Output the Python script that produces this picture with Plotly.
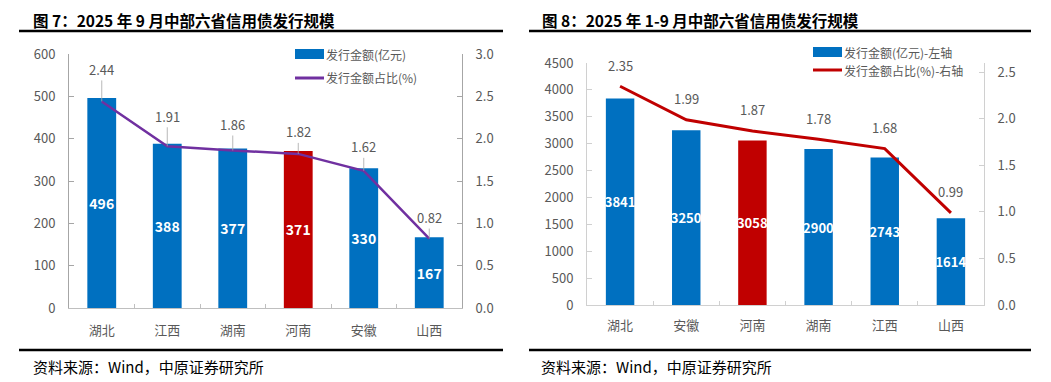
import plotly.graph_objects as go

# ---------------- data ----------------
left_categories = ["湖北", "江西", "湖南", "河南", "安徽", "山西"]
left_amount = [496, 388, 377, 371, 330, 167]          # 发行金额(亿元)
left_share = [2.44, 1.91, 1.86, 1.82, 1.62, 0.82]     # 发行金额占比(%)

right_categories = ["湖北", "安徽", "河南", "湖南", "江西", "山西"]
right_amount = [3841, 3250, 3058, 2900, 2743, 1614]    # 发行金额(亿元)-左轴
right_share = [2.35, 1.99, 1.87, 1.78, 1.68, 0.99]     # 发行金额占比(%)-右轴

left_title = "图 7：2025 年 9 月中部六省信用债发行规模"
right_title = "图 8：2025 年 1-9 月中部六省信用债发行规模"
source_text = "资料来源：Wind，中原证券研究所"

# ---------------- styles ----------------
OFF = 8                      # page body margin in the browser
W, H = 1051 - OFF, 382 - OFF
BLUE = "#0070C0"
RED = "#C00000"
PURPLE = "#7030A0"
TICK_COLOR = "#595959"
FONT = "Microsoft YaHei, Noto Sans CJK SC, sans-serif"
HIGHLIGHT = "河南"

left_label_offsets = [32, 30, 26, 22, 24, 21]


def px_x(p):
    return (p - OFF) / W


def px_y(p):
    return 1 - (p - OFF) / H


fig = go.Figure()

# left chart
fig.add_trace(go.Bar(
    x=left_categories, y=left_amount, xaxis="x", yaxis="y",
    marker=dict(color=[RED if c == HIGHLIGHT else BLUE for c in left_categories], line=dict(width=0)),
    width=0.44, text=left_amount, texttemplate="%{text}", textposition="inside",
    insidetextanchor="middle", constraintext="none", textangle=0,
    textfont=dict(color="white", size=14, family=FONT, weight="bold"),
    showlegend=False, hoverinfo="skip"))
fig.add_trace(go.Scatter(
    x=left_categories, y=left_share, xaxis="x", yaxis="y2", mode="lines",
    line=dict(color=PURPLE, width=2.5), showlegend=False, hoverinfo="skip"))

# right chart
fig.add_trace(go.Bar(
    x=right_categories, y=right_amount, xaxis="x2", yaxis="y3",
    marker=dict(color=[RED if c == HIGHLIGHT else BLUE for c in right_categories], line=dict(width=0)),
    width=0.43, text=right_amount, texttemplate="%{text}", textposition="inside",
    insidetextanchor="middle", constraintext="none", textangle=0,
    textfont=dict(color="white", size=13, family=FONT, weight="bold"),
    showlegend=False, hoverinfo="skip"))
fig.add_trace(go.Scatter(
    x=right_categories, y=right_share, xaxis="x2", yaxis="y4", mode="lines",
    line=dict(color=RED, width=3), showlegend=False, hoverinfo="skip"))

annotations = []
shapes = []

# line value labels (left, with leader lines)
for c, v, off in zip(left_categories, left_share, left_label_offsets):
    annotations.append(dict(
        x=c, y=v, xref="x", yref="y2", text=f"{v:.2f}", showarrow=True,
        arrowhead=0, arrowwidth=0.8, arrowcolor="#A6A6A6", ax=0, ay=-off,
        standoff=0, font=dict(size=13, color=TICK_COLOR, family=FONT)))

# line value labels (right)
for c, v in zip(right_categories, right_share):
    annotations.append(dict(
        x=c, y=v, xref="x2", yref="y4", text=f"{v:.2f}", showarrow=False,
        yshift=21, font=dict(size=13, color=TICK_COLOR, family=FONT)))

# titles (top of the figure area)
for x0, txt in [(32, left_title), (541, right_title)]:
    annotations.append(dict(
        x=px_x(x0), y=1.0, xref="paper", yref="paper", text=f"<b>{txt}</b>",
        showarrow=False, xanchor="left", yanchor="top", borderpad=0,
        font=dict(size=15.5, color="black", family=FONT)))

# source lines
for x0 in [32, 540]:
    annotations.append(dict(
        x=px_x(x0), y=px_y(366), xref="paper", yref="paper", text=source_text,
        showarrow=False, xanchor="left", yanchor="middle", borderpad=0,
        font=dict(size=15, color="black", family=FONT)))

# rules
for (xa, xb) in [(19, 503), (529, 1031)]:
    shapes.append(dict(type="line", xref="paper", yref="paper",
                       x0=px_x(xa), x1=px_x(xb), y0=px_y(31), y1=px_y(31),
                       line=dict(color="black", width=2.5)))
    shapes.append(dict(type="line", xref="paper", yref="paper",
                       x0=px_x(xa), x1=px_x(xb), y0=px_y(350), y1=px_y(350),
                       line=dict(color="black", width=2.5)))

# custom legends
legend_specs = [
    (295, 54, 78, "发行金额(亿元)", "发行金额占比(%)", PURPLE, 3),
    (813, 52, 70, "发行金额(亿元)-左轴", "发行金额占比(%)-右轴", RED, 3),
]
for x0, yb, yl, t1, t2, lc, lw in legend_specs:
    shapes.append(dict(type="rect", xref="paper", yref="paper",
                       x0=px_x(x0), x1=px_x(x0 + 29), y0=px_y(yb + 5), y1=px_y(yb - 5),
                       fillcolor=BLUE, line=dict(width=0)))
    shapes.append(dict(type="line", xref="paper", yref="paper",
                       x0=px_x(x0), x1=px_x(x0 + 29), y0=px_y(yl), y1=px_y(yl),
                       line=dict(color=lc, width=lw)))
    annotations.append(dict(x=px_x(x0 + 30), y=px_y(yb), xref="paper", yref="paper",
                            text=t1, showarrow=False, xanchor="left", yanchor="middle",
                            borderpad=0, font=dict(size=12, color=TICK_COLOR, family=FONT)))
    annotations.append(dict(x=px_x(x0 + 30), y=px_y(yl), xref="paper", yref="paper",
                            text=t2, showarrow=False, xanchor="left", yanchor="middle",
                            borderpad=0, font=dict(size=12, color=TICK_COLOR, family=FONT)))

tickfont = dict(size=13, color=TICK_COLOR, family=FONT)
yaxis_common = dict(showgrid=False, zeroline=False, showline=True, ticks="inside",
                    ticklen=5, tickfont=tickfont, ticklabelstandoff=10, fixedrange=True,
                    automargin=False)

fig.update_layout(
    width=W, height=H, autosize=False,
    margin=dict(l=0, r=0, t=0, b=0, pad=0),
    paper_bgcolor="white", plot_bgcolor="white",
    showlegend=False,
    xaxis=dict(domain=[px_x(69), px_x(462)], anchor="y", showgrid=False, showline=True,
               linecolor="#BFBFBF", ticks="inside", tickson="boundaries", ticklen=4,
               tickcolor="#BFBFBF", tickfont=tickfont, ticklabelstandoff=10, automargin=False),
    yaxis=dict(domain=[px_y(308), px_y(54)], anchor="x", range=[0, 600], dtick=100,
               linecolor="#A6A6A6", tickcolor="#A6A6A6", **yaxis_common),
    yaxis2=dict(overlaying="y", side="right", anchor="x", range=[0, 3], dtick=0.5,
                tickformat=".1f", linecolor="#A6A6A6", tickcolor="#A6A6A6", **yaxis_common),
    xaxis2=dict(domain=[px_x(587), px_x(984)], anchor="y3", showgrid=False, showline=True,
                linecolor="#D0D0D0", ticks="inside", tickson="boundaries", ticklen=4,
                tickcolor="#D0D0D0", tickfont=tickfont, ticklabelstandoff=8, automargin=False),
    yaxis3=dict(domain=[px_y(305), px_y(63)], anchor="x2", range=[0, 4500], dtick=500,
                linecolor="#D0D0D0", tickcolor="#D0D0D0", **yaxis_common),
    yaxis4=dict(overlaying="y3", side="right", anchor="x2", range=[0, 2.6], dtick=0.5,
                tickformat=".1f", linecolor="#D0D0D0", tickcolor="#D0D0D0", **yaxis_common),
    annotations=annotations,
    shapes=shapes,
)

fig.write_html("out.html")
